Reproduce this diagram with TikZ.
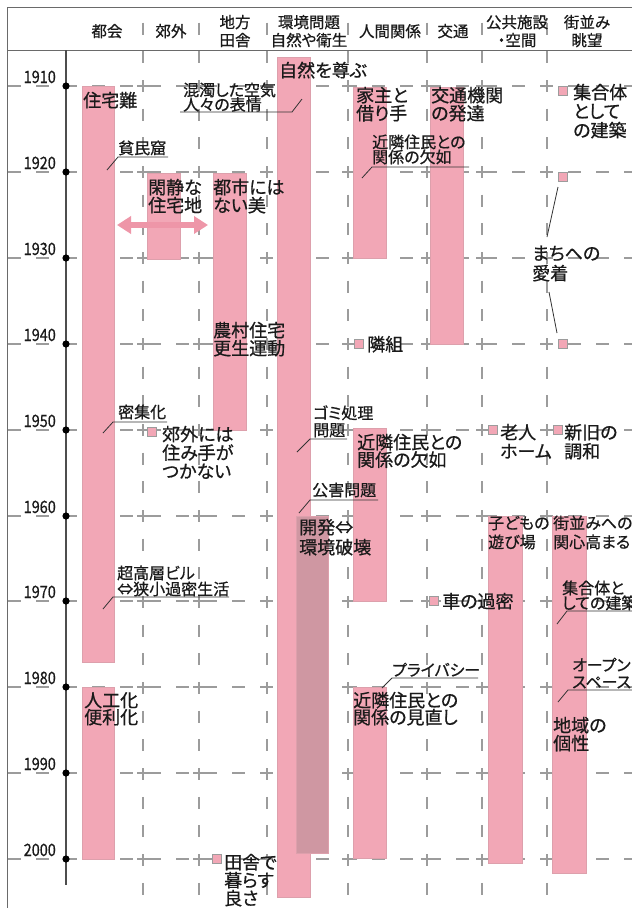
\documentclass[tikz,border=0pt]{standalone}
\usepackage{fontspec}
\usepackage{graphicx}
\setmainfont{Noto Sans CJK JP}[RawFeature=+palt, FakeBold=0.7]
\usetikzlibrary{arrows.meta}
\definecolor{barpink}{HTML}{F2A7B6}
\definecolor{baredge}{HTML}{DDA0AC}
\definecolor{darkbar}{HTML}{CF97A2}
\definecolor{gridc}{HTML}{9C9C9C}
\definecolor{framec}{HTML}{6A6A6A}
\definecolor{axisc}{HTML}{4D4D4D}
\definecolor{leadc}{HTML}{333333}
\definecolor{arrowc}{HTML}{EE96A8}
\definecolor{textc}{HTML}{1A1A1A}
\newcommand\Lns[2]{\vtop{\baselineskip=#1\lineskiplimit=-\maxdimen\lineskip=0pt\halign{##\hfil\cr#2\crcr}}}
\newcommand\Clns[2]{\vtop{\baselineskip=#1\lineskiplimit=-\maxdimen\lineskip=0pt\halign{\hfil##\hfil\cr#2\crcr}}}
\tikzset{
  body/.style={font=\fontsize{18}{18}\selectfont, text=textc, inner sep=0pt, anchor=base west},
  bodysm/.style={font=\fontsize{16}{16}\selectfont, text=textc, inner sep=0pt, anchor=base west},
  note/.style={font=\fontsize{16}{16}\selectfont, text=textc, inner sep=0pt, anchor=base west},
  head/.style={font=\fontsize{15.5}{18}\selectfont, text=textc, inner sep=0pt, anchor=base},
  yr/.style={font=\fontsize{17}{17}\selectfont, text=textc, inner sep=0pt, anchor=base east},
  bar/.style={fill=barpink, draw=baredge, line width=0.6pt},
  darkbarst/.style={fill=darkbar, draw=baredge, line width=0.6pt},
  sq/.style={fill=barpink, draw=gridc, line width=0.6pt, minimum size=9pt, inner sep=0pt, rectangle},
  lead/.style={draw=leadc, line width=0.8pt},
  vgrid/.style={draw=gridc, line width=1.1pt, dash pattern=on 12pt off 16.67pt, dash phase=13pt},
  hgrid/.style={draw=gridc, line width=1.1pt, dash pattern=on 13pt off 15pt},
  frameline/.style={draw=framec, line width=1pt}
}
\begin{document}
\begin{tikzpicture}[x=1pt,y=-1pt]
\useasboundingbox (0,0) rectangle (632,908);
\fill[white] (0,0) rectangle (632,908);
% grid
\foreach \x in {143,199,267,348,427,482,547} \draw[vgrid] (\x,7) -- (\x,908);
\foreach \y in {86,172,258,344,430,516,601,687,773,859} {
  \draw[hgrid] (8,\y) -- (632,\y);
  \foreach \x in {143,199,267,348,427,482,547} \draw[gridc, line width=1.1pt] (\x-6,\y) -- (\x+6,\y);
}
% frame
\draw[frameline] (7,908) -- (7,7) -- (632,7);
\draw[frameline] (7,50) -- (632,50);
% header
\node[head] (h1) at (107,37) {都会};
\node[head] (h2) at (171,37) {郊外};
\node[head] (h3) at (235,28) {\Clns{18pt}{地方\cr 田舎}};
\node[head] (h4) at (309,28) {\Clns{18pt}{環境問題\cr 自然や衛生}};
\node[head] (h5) at (390,37) {人間関係};
\node[head] (h6) at (453,37) {交通};
\node[head] (h7) at (517,28) {\Clns{18pt}{公共施設\cr ・空間}};
\node[head] (h8) at (587,28) {\Clns{18pt}{街並み\cr 眺望}};
% axis
\draw[axisc, line width=2pt] (66,50) -- (66,885);
\foreach \yv/\yy in {1910/86,1920/172,1930/258,1940/344,1950/430,1960/516,1970/601,1980/687,1990/773,2000/859} {
  \fill[black] (66,\yy) circle (3.6pt);
  \node[yr] (yr\yv) at (56,\yy-3) {\scalebox{0.85}[1]{\yv}};
}
% bars
\draw[bar] (82,86) rectangle (114,662);
\draw[bar] (82,687) rectangle (114,859);
\draw[bar] (147,173) rectangle (180,259);
\draw[bar] (213,173) rectangle (246,430);
\draw[bar] (277,57) rectangle (310,897);
\draw[darkbarst] (296,516) rectangle (328,853);
\draw[bar] (353,87) rectangle (386,258);
\draw[bar] (353,428) rectangle (386,601);
\draw[bar] (353,687) rectangle (386,858);
\draw[bar] (430,87) rectangle (463,344);
\draw[bar] (488,516) rectangle (522,863);
\draw[bar] (552,516) rectangle (586,873);
% arrow
\draw[arrowc, line width=6pt, {Triangle[width=17pt,length=14pt]}-{Triangle[width=17pt,length=14pt]}] (117,225) -- (208,225);
% squares
\node[sq] (sqC2000) at (217,859) {};
\node[sq] (sqK1950) at (152,432) {};
\node[sq] (sqN1940) at (359,344) {};
\node[sq] (sqT1970) at (434,601) {};
\node[sq] (sqP1950) at (493,430) {};
\node[sq] (sqM1910) at (563,91) {};
\node[sq] (sqM1920) at (563,177) {};
\node[sq] (sqM1940) at (563,344) {};
\node[sq] (sqM1950) at (558,430) {};
% body texts
\node[body] (b1) at (83,107) {住宅難};
\node[body] (b2) at (148,194) {\Lns{18pt}{閑静な\cr 住宅地}};
\node[body] (b3) at (213,194) {\Lns{18pt}{都市には\cr ない美}};
\node[body] (b4) at (279,77) {自然を尊ぶ};
\node[body] (b5) at (356,102) {\Lns{18pt}{家主と\cr 借り手}};
\node[body] (b6) at (431,102) {\Lns{18pt}{交通機関\cr の発達}};
\node[body] (b7) at (573,99) {\Lns{19pt}{集合体\cr として\cr の建築}};
\node[body] (b8) at (532,260) {\Lns{20pt}{まちへの\cr 愛着}};
\node[body] (b9) at (213,337) {\Lns{18pt}{農村住宅\cr 更生運動}};
\node[body] (b10) at (367,351) {隣組};
\node[body] (b11) at (162,441) {\Lns{18.5pt}{郊外には\cr 住み手が\cr つかない}};
\node[body] (b12) at (357,449) {\Lns{17.5pt}{近隣住民との\cr 関係の欠如}};
\node[body] (b13) at (500,439) {\Lns{19pt}{老人\cr ホーム}};
\node[body] (b14) at (564,439) {\Lns{19pt}{新旧の\cr 調和}};
\node[body] (b15) at (299,534) {\Lns{20pt}{開発⇔\cr 環境破壊}};
\node[bodysm] (b16) at (488,529) {\Lns{19pt}{子どもの\cr 遊び場}};
\node[bodysm] (b17) at (553,529) {\Lns{19pt}{街並みへの\cr 関心高まる}};
\node[body] (b18) at (442,608) {車の過密};
\node[body] (b19) at (84,707) {\Lns{17pt}{人工化\cr 便利化}};
\node[body] (b20) at (353,707) {\Lns{17pt}{近隣住民との\cr 関係の見直し}};
\node[body] (b21) at (553,732) {\Lns{18pt}{地域の\cr 個性}};
\node[body] (b22) at (224,869) {\Lns{18pt}{田舎で\cr 暮らす\cr 良さ}};
% notes
\node[note] (n1) at (118,154) {貧民窟};
\node[note] (n2) at (183,96) {\Lns{14.5pt}{混濁した空気\cr 人々の表情}};
\node[note] (n3) at (372,148) {\Lns{15pt}{近隣住民との\cr 関係の欠如}};
\node[note] (n4) at (118,418) {密集化};
\node[note] (n5) at (313,419) {\Lns{17pt}{ゴミ処理\cr 問題}};
\node[note] (n6) at (312,496) {公害問題};
\node[note] (n7) at (117,579) {\Lns{16pt}{超高層ビル\cr ⇔狭小過密生活}};
\node[note] (n8) at (562,594) {\Lns{15pt}{集合体と\cr しての建築}};
\node[note] (n9) at (392,676) {プライバシー};
\node[note] (n10) at (572,671) {\Lns{17pt}{オープン\cr スペース}};
% leaders
\draw[lead] (107,170) -- (118,157) -- (168,157);
\draw[lead] (302,99) -- (292,112) -- (180,112);
\draw[lead] (362,178) -- (372,167) -- (469,167);
\draw[lead] (103,433) -- (113,422) -- (167,422);
\draw[lead] (297,452) -- (310,439) -- (347,439);
\draw[lead] (299,513) -- (310,500) -- (378,500);
\draw[lead] (103,609) -- (113,597) -- (229,597);
\draw[lead] (557,624) -- (567,611) -- (632,611);
\draw[lead] (382,688) -- (392,678) -- (478,678);
\draw[lead] (558,702) -- (568,690) -- (632,690);
\draw[lead] (558,187) -- (547,237);
\draw[lead] (549,292) -- (557,333);
\end{tikzpicture}
\end{document}
